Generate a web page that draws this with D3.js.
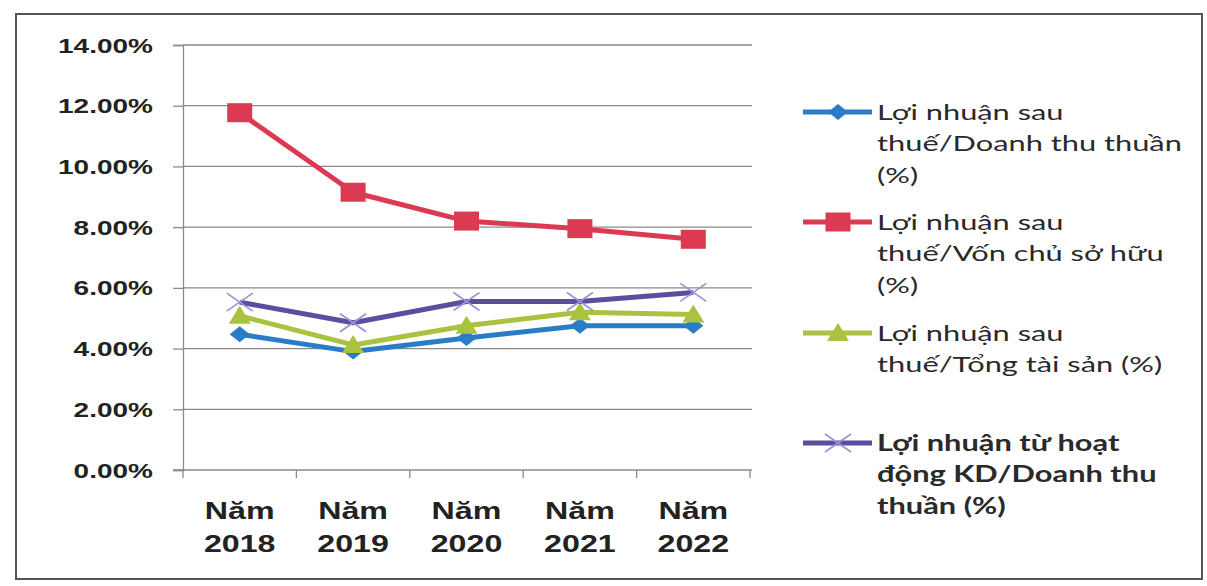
<!DOCTYPE html>
<html>
<head>
<meta charset="utf-8">
<script src="https://cdn.jsdelivr.net/npm/d3@7/dist/d3.min.js"></script>
<style>
  html, body { margin: 0; padding: 0; background: #ffffff; }
  svg { display: block; }
</style>
</head>
<body>
<svg id="chart" width="1207" height="586"></svg>
<script>
// ---- data ----
const categories = ["Năm 2018", "Năm 2019", "Năm 2020", "Năm 2021", "Năm 2022"];
const netMarginSales = [0.0447, 0.0390, 0.0435, 0.0475, 0.0475];   // LN sau thuế / Doanh thu thuần
const roe           = [0.1177, 0.0915, 0.0820, 0.0795, 0.0760];   // LN sau thuế / Vốn chủ sở hữu
const roa           = [0.0508, 0.0412, 0.0475, 0.0520, 0.0512];   // LN sau thuế / Tổng tài sản
const opMargin      = [0.0553, 0.0485, 0.0555, 0.0555, 0.0585];   // LN từ HĐKD / Doanh thu thuần
const yTicks = [0, 0.02, 0.04, 0.06, 0.08, 0.10, 0.12, 0.14];
const seriesNames = [
  ["Lợi nhuận sau", "thuế/Doanh thu thuần", "(%)"],
  ["Lợi nhuận sau", "thuế/Vốn chủ sở hữu", "(%)"],
  ["Lợi nhuận sau", "thuế/Tổng tài sản (%)"],
  ["Lợi nhuận từ hoạt", "động KD/Doanh thu", "thuần (%)"]
];

const series = [
  { values: netMarginSales, color: "#2b7cc6", marker: "diamond", name: seriesNames[0], bold: false },
  { values: roe,            color: "#dc3a52", marker: "square",  name: seriesNames[1], bold: false },
  { values: roa,            color: "#a9c240", marker: "triangle",name: seriesNames[2], bold: false },
  { values: opMargin,       color: "#5a4f9e", marker: "cross",   name: seriesNames[3], bold: true }
];

const SX = 1.4; // horizontal stretch of the scanned picture
const svg = d3.select("#chart");

// outer frame
svg.append("rect")
  .attr("x", 16).attr("y", 14).attr("width", 1186).attr("height", 565)
  .attr("fill", "#fff").attr("stroke", "#555").attr("stroke-width", 2);

const x = d3.scaleBand().domain(categories).range([183, 750]).padding(0);
const y = d3.scaleLinear().domain([0, 0.14]).range([470, 45]);

// gridlines
svg.append("g").selectAll("line").data(yTicks.filter(d => d > 0)).join("line")
  .attr("x1", 183).attr("x2", 752)
  .attr("y1", d => y(d)).attr("y2", d => y(d))
  .attr("stroke", "#8a8a8a").attr("stroke-width", 1.3);

// y axis
const yAxis = svg.append("g").attr("transform", "translate(183,0)")
  .call(d3.axisLeft(y).tickValues(yTicks).tickFormat(d3.format(".2%")).tickSize(10).tickPadding(0));
yAxis.select(".domain").attr("stroke", "#8a8a8a").attr("stroke-width", 1.3);
yAxis.selectAll(".tick line").attr("stroke", "#8a8a8a").attr("stroke-width", 1.3);
yAxis.selectAll(".tick text")
  .attr("x", -30 / SX)
  .attr("transform", `scale(${SX},1)`)
  .attr("dy", "0.35em")
  .attr("fill", "#222")
  .style("font-family", "'Liberation Sans', Arial, sans-serif")
  .style("font-size", "20px")
  .style("font-weight", "600");

// x axis line + boundary ticks
svg.append("line").attr("x1", 173).attr("x2", 752).attr("y1", y(0)).attr("y2", y(0))
  .attr("stroke", "#8a8a8a").attr("stroke-width", 1.3);
const bounds = categories.map(c => x(c)).concat([x(categories[categories.length - 1]) + x.bandwidth()]);
svg.append("g").selectAll("line").data(bounds).join("line")
  .attr("x1", d => d).attr("x2", d => d)
  .attr("y1", y(0)).attr("y2", y(0) + 8)
  .attr("stroke", "#8a8a8a").attr("stroke-width", 1.3);

// x labels (two lines)
const xl = svg.append("g").selectAll("g").data(categories).join("g")
  .attr("transform", d => `translate(${x(d) + x.bandwidth() / 2},0) scale(${SX},1)`);
xl.append("text").attr("y", 519).text(d => d.split(" ")[0]);
xl.append("text").attr("y", 552).text(d => d.split(" ")[1]);
xl.selectAll("text")
  .attr("text-anchor", "middle").attr("fill", "#222")
  .style("font-family", "'Liberation Sans', Arial, sans-serif")
  .style("font-size", "23px").style("font-weight", "bold");

// marker drawing
function drawMarker(g, type, color) {
  if (type === "diamond") {
    g.append("path").attr("d", "M0,-8 L10,0 L0,8 L-10,0 Z").attr("fill", color);
  } else if (type === "square") {
    g.append("rect").attr("x", -12.5).attr("y", -9.5).attr("width", 25).attr("height", 19).attr("fill", color);
  } else if (type === "triangle") {
    g.append("path").attr("d", "M0,-10 L11,8 L-11,8 Z").attr("fill", color);
  } else if (type === "cross") {
    g.append("path").attr("d", "M-13,-9 L13,9 M-13,9 L13,-9")
      .attr("stroke", "#9b92d6").attr("stroke-width", 1.6).attr("fill", "none");
  }
}

const line = d3.line().x((d, i) => x(categories[i]) + x.bandwidth() / 2).y(d => y(d));

series.forEach(s => {
  svg.append("path").datum(s.values)
    .attr("d", line).attr("fill", "none")
    .attr("stroke", s.color).attr("stroke-width", 5).attr("stroke-linejoin", "round");
  s.values.forEach((v, i) => {
    const g = svg.append("g").attr("transform", `translate(${x(categories[i]) + x.bandwidth() / 2},${y(v)})`);
    drawMarker(g, s.marker, s.color);
  });
});

// legend
const legendY = [112, 222, 333, 443];
const lineGap = 31.5;
series.forEach((s, k) => {
  const cy = legendY[k];
  svg.append("line").attr("x1", 803).attr("x2", 872).attr("y1", cy).attr("y2", cy)
    .attr("stroke", s.color).attr("stroke-width", 5);
  const g = svg.append("g").attr("transform", `translate(838,${cy})`);
  drawMarker(g, s.marker, s.color);
  const t = svg.append("g").attr("transform", `translate(877,0) scale(${SX},1)`);
  s.name.forEach((ln, j) => {
    t.append("text").attr("x", 0).attr("y", cy + j * lineGap).attr("dy", "0.35em")
      .text(ln).attr("fill", "#2a2a2a")
      .style("font-family", "Lato, 'Open Sans', sans-serif")
      .style("font-size", "22px")
      .style("font-weight", s.bold ? "bold" : "normal");
  });
});
</script>
</body>
</html>
